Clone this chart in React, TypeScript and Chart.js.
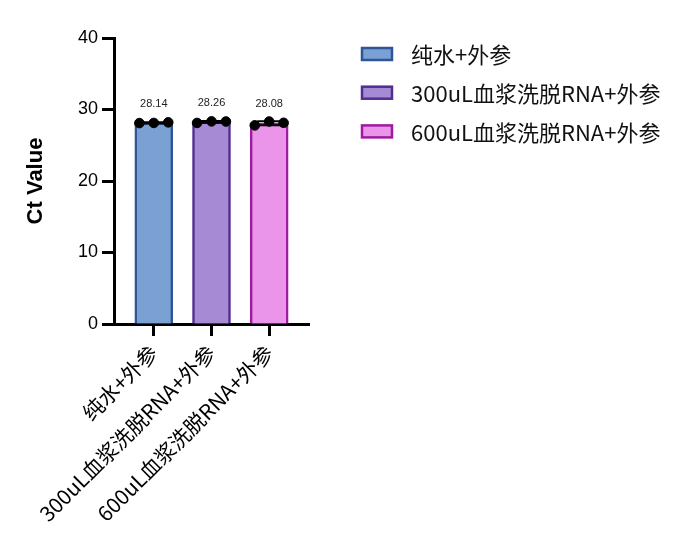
import React, { useEffect, useRef } from "react";
import { Chart, registerables } from "chart.js";

Chart.register(...registerables);

const categories = ["纯水+外参", "300uL血浆洗脱RNA+外参", "600uL血浆洗脱RNA+外参"];
const means = [28.14, 28.26, 28.08];
const sds = [0.06, 0.12, 0.27];
const replicates = [
  [28.1, 28.12, 28.2],
  [28.12, 28.34, 28.32],
  [27.78, 28.32, 28.14],
];
const yTicks = [0, 10, 20, 30, 40];
const fillColors = ["#7BA0D4", "#A68AD4", "#EA95E9"];
const borderColors = ["#2E5597", "#512E91", "#A01AA0"];

const JITTER = [-0.25, 0, 0.25];

const overlayPlugin = {
  id: "overlay",
  afterDatasetsDraw(chart: any) {
    const ctx = chart.ctx;
    const xs = chart.scales.x;
    const ys = chart.scales.y;
    ctx.save();
    // error bars
    ctx.strokeStyle = "#000";
    ctx.lineWidth = 2;
    means.forEach((m, i) => {
      const x = xs.getPixelForValue(i);
      const yTop = ys.getPixelForValue(m + sds[i]);
      const yBot = ys.getPixelForValue(m - sds[i]);
      const hw = 12;
      ctx.beginPath();
      ctx.moveTo(x, yTop);
      ctx.lineTo(x, yBot);
      ctx.moveTo(x - hw, yTop);
      ctx.lineTo(x + hw, yTop);
      ctx.moveTo(x - hw, yBot);
      ctx.lineTo(x + hw, yBot);
      ctx.stroke();
    });
    // value labels
    ctx.fillStyle = "#222";
    ctx.font = "11px 'Liberation Sans', Arial, sans-serif";
    ctx.textAlign = "center";
    ctx.textBaseline = "middle";
    means.forEach((m, i) => {
      const x = xs.getPixelForValue(i);
      const y = ys.getPixelForValue(m) - 19;
      ctx.fillText(m.toFixed(2), x, y);
    });
    ctx.restore();
  },
  afterDraw(chart: any) {
    const ctx = chart.ctx;
    const area = chart.chartArea;
    const x0 = area.right + 53;
    const y0 = 54;
    const step = 38.7;
    ctx.save();
    categories.forEach((c, i) => {
      const cy = y0 + i * step;
      ctx.fillStyle = fillColors[i];
      ctx.strokeStyle = borderColors[i];
      ctx.lineWidth = 2.5;
      ctx.fillRect(x0, cy - 6, 30, 12);
      ctx.strokeRect(x0, cy - 6, 30, 12);
      ctx.fillStyle = "#111";
      ctx.font = "22px 'Noto Sans CJK SC', sans-serif";
      ctx.textAlign = "left";
      ctx.textBaseline = "middle";
      ctx.fillText(c, x0 + 49, cy + 1);
    });
    ctx.restore();
  },
};

export default function App() {
  const ref = useRef<HTMLCanvasElement | null>(null);
  useEffect(() => {
    if (!ref.current) return;
    const chart = new Chart(ref.current, {
      type: "bar",
      data: {
        datasets: [
          {
            type: "bar",
            data: means.map((m, i) => ({ x: i, y: m })),
            backgroundColor: fillColors,
            borderColor: borderColors,
            borderWidth: 2.5,
            barThickness: 38,
            order: 2,
          } as any,
          {
            type: "scatter",
            data: replicates.flatMap((r, i) => r.map((v, j) => ({ x: i + JITTER[j], y: v }))),
            backgroundColor: "#000",
            borderColor: "#000",
            pointRadius: 4.8,
            pointHoverRadius: 4.8,
            showLine: false,
            order: 1,
          } as any,
        ],
      },
      options: {
        animation: false,
        responsive: true,
        maintainAspectRatio: false,
        layout: { padding: { top: 38, right: 373, left: 0, bottom: 0 } },
        plugins: { legend: { display: false }, tooltip: { enabled: false } },
        scales: {
          x: {
            type: "linear",
            min: -0.69,
            max: 2.69,
            offset: false,
            afterFit: (s: any) => {
              s.height = 216;
            },
            afterBuildTicks: (s: any) => {
              s.ticks = categories.map((_, i) => ({ value: i }));
            },
            ticks: {
              autoSkip: false,
              maxRotation: 45,
              minRotation: 45,
              padding: 4,
              color: "#000",
              font: { family: "'Noto Sans CJK SC', sans-serif", size: 21 },
              callback: (v: any) => categories[v as number] ?? "",
            },
            grid: {
              display: true,
              offset: false,
              drawOnChartArea: false,
              drawTicks: true,
              tickLength: 12,
              tickWidth: 3,
              tickColor: "#000",
            },
            border: { display: true, color: "#000", width: 3 },
          },
          y: {
            min: 0,
            max: 40,
            afterFit: (s: any) => {
              s.width = 114;
            },
            afterBuildTicks: (s: any) => {
              s.ticks = yTicks.map((v) => ({ value: v }));
            },
            ticks: {
              padding: 4,
              color: "#000",
              font: { family: "'Liberation Sans', Arial, sans-serif", size: 18 },
            },
            grid: {
              display: true,
              drawOnChartArea: false,
              drawTicks: true,
              tickLength: 12,
              tickWidth: 3,
              tickColor: "#000",
            },
            border: { display: true, color: "#000", width: 3 },
            title: {
              display: true,
              text: "Ct Value",
              color: "#000",
              font: { family: "'Liberation Sans', Arial, sans-serif", size: 22, weight: "bold" },
              padding: { top: 23, bottom: 0 },
            },
          },
        },
      },
      plugins: [overlayPlugin],
    });
    return () => chart.destroy();
  }, []);
  return (
    <div style={{ position: "fixed", left: 0, top: 0, width: 682, height: 540, background: "#fff" }}>
      <canvas ref={ref} />
    </div>
  );
}
